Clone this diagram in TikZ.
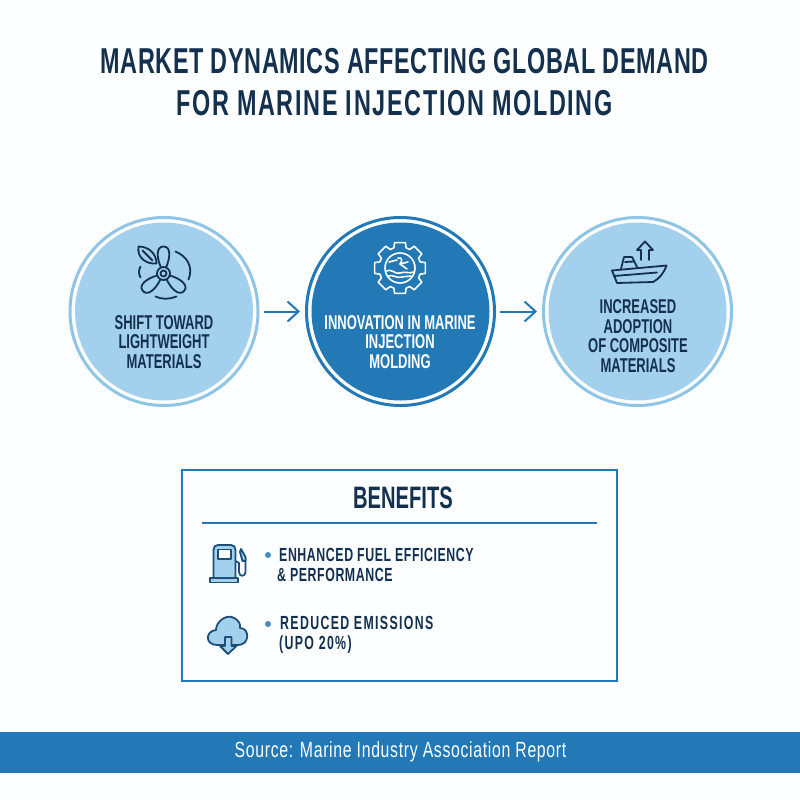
\documentclass[tikz,border=0pt]{standalone}
\usepackage{fontspec}
\usepackage{xcolor}
\usepackage{tikz}
\usetikzlibrary{arrows.meta, positioning}
\newfontfamily\narrowfont[FakeStretch=0.65]{Liberation Sans}
\newfontfamily\titlefont[FakeStretch=0.65, LetterSpace=1.8]{Liberation Sans}
\newfontfamily\titlewide[FakeStretch=0.65, LetterSpace=4.6]{Liberation Sans}
\newfontfamily\itemfont[FakeStretch=0.65, LetterSpace=3]{Liberation Sans}
\newfontfamily\itemwide[FakeStretch=0.65, LetterSpace=7]{Liberation Sans}
\newfontfamily\sourcefont[FakeStretch=0.72, LetterSpace=3]{Liberation Sans}
\definecolor{navy}{HTML}{14304F}
\definecolor{lightfill}{HTML}{A3D0EC}
\definecolor{lightring}{HTML}{8EC5E6}
\definecolor{seablue}{HTML}{2279B6}
\definecolor{iconline}{HTML}{1D4F78}
\tikzset{
    ring/.style={draw=#1, line width=3pt, circle, fill=white, minimum size=188pt, inner sep=0pt},
    disc/.style={fill=#1, circle, minimum size=178pt, inner sep=0pt},
    caption/.style={text=#1, align=center, font=\narrowfont\bfseries\fontsize{20}{19.5}\selectfont},
    titleline/.style={text=navy, font=\titlefont\bfseries\fontsize{36}{38}\selectfont},
    itemline/.style={text=navy, anchor=west, inner sep=0pt, font=\itemfont\bfseries\fontsize{19}{20}\selectfont},
    flow/.style={draw=seablue, line width=2pt, shorten <=4pt, shorten >=5pt, -{Straight Barb[length=11pt, width=20pt, line width=2pt]}},
    darkicon/.style={draw=navy, line width=1.8pt, line join=round, line cap=round},
    whiteicon/.style={draw=white, line width=1.6pt, line join=round, line cap=round},
    smallicon/.style={draw=iconline, line width=1.8pt, line join=round, fill=lightfill},
}
\begin{document}
\begin{tikzpicture}[x=1pt, y=-1pt]
    \useasboundingbox (0,0) rectangle (800,800);
    \fill[white!98!lightfill] (0,0) rectangle (800,800);

    \node[titleline] (title1) at (404.5,61) {MARKET DYNAMICS AFFECTING GLOBAL DEMAND};
    \node[titleline, font=\titlewide\bfseries\fontsize{36}{38}\selectfont] (title2) at (394.5,103) {FOR MARINE INJECTION MOLDING};

    % three circles
    \node[ring=lightring] (shift) at (164,311.5) {};
    \node[ring=seablue] (innov) at (400.5,311.5) {};
    \node[ring=lightring] (adopt) at (637.5,311.5) {};
    \node[disc=lightfill] (shiftfill) at (164,311.5) {};
    \node[disc=seablue] (innovfill) at (400.5,311.5) {};
    \node[disc=lightfill] (adoptfill) at (637.5,311.5) {};

    \node[caption=navy] (shifttext) at (164,342) {SHIFT TOWARD\\LIGHTWEIGHT\\MATERIALS};
    \node[caption=white] (innovtext) at (400,342) {INNOVATION IN MARINE\\INJECTION\\MOLDING};
    \node[caption=navy] (adopttext) at (638,336) {INCREASED\\ADOPTION\\OF COMPOSITE\\MATERIALS};

    \draw[flow] (shift) -- (innov);
    \draw[flow] (innov) -- (adopt);

    % propeller and leaf
    \begin{scope}[shift={(163.5,273.5)}, darkicon]
        \foreach \ang in {0,130,230} {
            \draw[rotate=\ang] (-2.5,-6) .. controls (-7,-16) and (-7.5,-27) .. (0,-27) .. controls (7.5,-27) and (7,-16) .. (2.5,-6);
        }
        \draw (0,0) circle (6.5);
        \draw (0,0) circle (3);
        \draw (12,-22) .. controls (24,-17) and (30,-6) .. (25,6);
        \draw (-8,23) .. controls (-2,26) and (6,26) .. (13,23);
        \draw (-23,-7) .. controls (-25,-3) and (-25,0) .. (-23,4);
        \draw (-25,-27) .. controls (-14,-27) and (-7,-19) .. (-7,-10) .. controls (-16,-9) and (-27,-15) .. (-25,-27) -- cycle;
        \draw (-21,-23) -- (-11,-13);
    \end{scope}

    % gear with sea
    \begin{scope}[shift={(400,268)}, whiteicon]
        \draw (-12:26) \foreach \a in {0,45,...,315} {-- (\a-12:26) -- (\a+12:26) -- (\a+17:21) -- (\a+28:21)} -- cycle;
        \draw (0,0) circle (15);
        \draw (-14,3) .. controls (-8,0) and (-5,7) .. (0,5) .. controls (5,3) and (9,6) .. (14,4);
        \draw (-12,8) .. controls (-7,6) and (-3,11) .. (2,9) .. controls (6,8) and (8,9) .. (11,8);
        \draw (-11,-6) -- (-3,-8);
        \draw (-2,-10) .. controls (3,-11) and (2,-6) .. (0,-4) -- (7,1);
        \draw (0,-4) -- (8,-6);
    \end{scope}

    % boat and arrow
    \begin{scope}[darkicon]
        \draw (612,270.5) -- (666.5,265.5) .. controls (664,273) and (659,279) .. (653,282) -- (617,283) -- cycle;
        \draw (614,276) -- (657,272.5);
        \draw (621,269) -- (624,257) -- (632,257) -- (637,267);
        \draw (625,262) -- (634,261.5);
        \draw (641,260) -- (641,250) -- (637,250) -- (645,241.5) -- (653,250) -- (649,250) -- (649,260);
    \end{scope}

    % benefits box
    \node[draw=seablue, line width=2pt, minimum width=435pt, minimum height=211pt, inner sep=0pt] (box) at (399.5,575) {};
    \node[text=navy, font=\narrowfont\bfseries\fontsize{31}{34}\selectfont] (benefits) at (403,498) {BENEFITS};
    \coordinate (ruleleft) at (202,523);
    \coordinate (ruleright) at (597,523);
    \draw[seablue, line width=2pt] (ruleleft) -- (ruleright);

    % fuel pump
    \path[smallicon] (213.5,578) -- (213.5,550) .. controls (213.5,547) and (215,545) .. (218,545) -- (231,545) .. controls (234,545) and (235.5,547) .. (235.5,550) -- (235.5,578) -- cycle;
    \path[smallicon] (210,578) rectangle (238,582.5);
    \path[smallicon, fill=white] (218,549.5) rectangle (231,559);
    \draw[smallicon, fill=none] (235.5,561) -- (239,563) -- (239,572) .. controls (239,577) and (245.5,577) .. (245.5,572) -- (245.5,558) -- (240,551);
    \path[smallicon] (240,552) -- (241,549) -- (245.5,557) -- (245.5,561) -- (242.5,561) -- cycle;

    % cloud with down arrow
    \path[smallicon] (217,645) .. controls (205,645) and (205,631) .. (216,630) .. controls (216,622) and (225,615) .. (232,617) .. controls (238,619) and (241,624) .. (240,628) .. controls (250,628) and (250,645) .. (238,645) -- cycle;
    \path[smallicon] (225,637) -- (231.5,637) -- (231.5,646) -- (236.5,646) -- (228,654) -- (220,646) -- (225,646) -- cycle;

    % bullets and item texts
    \node[fill=seablue!85!white, circle, minimum size=6pt, inner sep=0pt] (bullet1) at (268,555) {};
    \node[fill=seablue!85!white, circle, minimum size=6pt, inner sep=0pt] (bullet2) at (268,624) {};
    \node[itemline] (item1a) at (279,555) {ENHANCED FUEL EFFICIENCY};
    \node[itemline] (item1b) at (277,575) {\& PERFORMANCE};
    \node[itemline, font=\itemwide\bfseries\fontsize{19}{20}\selectfont] (item2a) at (280,623) {REDUCED EMISSIONS};
    \node[itemline, font=\itemwide\bfseries\fontsize{19}{20}\selectfont] (item2b) at (279,644.5) {(UPO 20\%)};

    % source band
    \fill[seablue] (0,732) rectangle (800,773);
    \node[text=white, font=\sourcefont\fontsize{22}{24}\selectfont] (source) at (400.5,752) {Source: Marine Industry Association Report};
\end{tikzpicture}
\end{document}
